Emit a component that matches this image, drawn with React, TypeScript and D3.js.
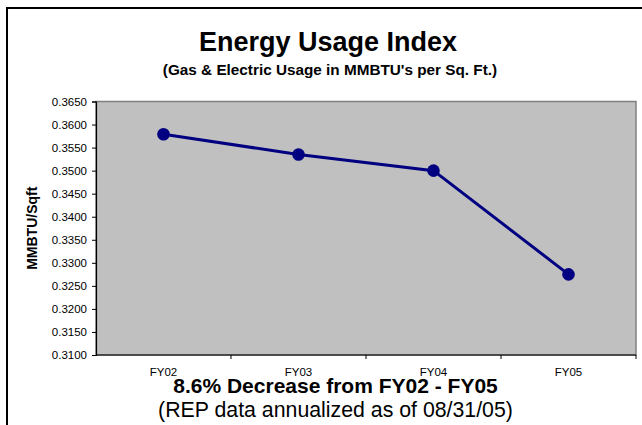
import React, { useEffect, useRef } from "react";
import * as d3 from "d3";

const categories = ["FY02", "FY03", "FY04", "FY05"];
const usage = [0.3579, 0.3535, 0.35, 0.3275];
const yTicks = [0.31, 0.315, 0.32, 0.325, 0.33, 0.335, 0.34, 0.345, 0.35, 0.355, 0.36, 0.365];

const title = "Energy Usage Index";
const subtitle = "(Gas & Electric Usage in MMBTU's per Sq. Ft.)";
const yTitle = "MMBTU/Sqft";
const note = "8.6% Decrease from FY02 - FY05";
const note2 = "(REP data annualized as of 08/31/05)";

export default function App() {
  const ref = useRef<SVGSVGElement>(null);

  useEffect(() => {
    const svg = d3.select(ref.current);
    svg.selectAll("*").remove();

    const font = "'Liberation Sans', Arial, sans-serif";
    const left = 96,
      right = 636,
      top = 101.5,
      bottom = 355;

    // outer chart frame (runs off the right / bottom edge)
    svg
      .append("rect")
      .attr("x", 7)
      .attr("y", 8)
      .attr("width", 680)
      .attr("height", 460)
      .attr("fill", "white")
      .attr("stroke", "black")
      .attr("stroke-width", 2);

    const x = d3.scaleBand().domain(categories).range([left, right]).padding(0);
    const y = d3.scaleLinear().domain([0.31, 0.365]).range([bottom, top]);

    // plot area
    svg
      .append("rect")
      .attr("x", left)
      .attr("y", top)
      .attr("width", right - left)
      .attr("height", bottom - top)
      .attr("fill", "#c0c0c0")
      .attr("stroke", "#808080")
      .attr("stroke-width", 1.5);

    // y axis
    const yAxis = svg
      .append("g")
      .attr("transform", "translate(" + left + ",0)")
      .call(
        d3
          .axisLeft(y)
          .tickValues(yTicks)
          .tickSize(4)
          .tickPadding(5)
          .tickFormat(d3.format(".4f"))
      );
    yAxis.select(".domain").attr("stroke", "black").attr("stroke-width", 1.2);
    yAxis.selectAll(".tick line").attr("stroke", "black");
    yAxis
      .selectAll(".tick text")
      .attr("font-family", font)
      .attr("font-size", "11.5px")
      .attr("fill", "black");

    // x axis line + ticks at band edges
    const xAxis = svg.append("g");
    xAxis
      .append("line")
      .attr("x1", left)
      .attr("x2", right)
      .attr("y1", bottom)
      .attr("y2", bottom)
      .attr("stroke", "black")
      .attr("stroke-width", 1.2);
    xAxis
      .selectAll(".edge")
      .data(categories.slice(1).concat(["end"]))
      .enter()
      .append("line")
      .attr("x1", (d) => (d === "end" ? right : (x(d) as number)))
      .attr("x2", (d) => (d === "end" ? right : (x(d) as number)))
      .attr("y1", bottom)
      .attr("y2", bottom + 4)
      .attr("stroke", "black");
    xAxis
      .selectAll(".lbl")
      .data(categories)
      .enter()
      .append("text")
      .attr("x", (d) => (x(d) as number) + x.bandwidth() / 2)
      .attr("y", 376)
      .attr("text-anchor", "middle")
      .attr("font-family", font)
      .attr("font-size", "11.5px")
      .text((d) => d);

    // series
    const pts = categories.map((c, i) => [
      (x(c) as number) + x.bandwidth() / 2,
      y(usage[i]),
    ]) as [number, number][];

    svg
      .append("path")
      .attr("d", d3.line()(pts) as string)
      .attr("fill", "none")
      .attr("stroke", "#000080")
      .attr("stroke-width", 3);

    svg
      .selectAll(".dot")
      .data(pts)
      .enter()
      .append("circle")
      .attr("cx", (d) => d[0])
      .attr("cy", (d) => d[1])
      .attr("r", 6.3)
      .attr("fill", "#000080");

    // titles
    svg
      .append("text")
      .attr("x", 328)
      .attr("y", 51)
      .attr("text-anchor", "middle")
      .attr("font-family", font)
      .attr("font-weight", "bold")
      .attr("font-size", "27px")
      .text(title);
    svg
      .append("text")
      .attr("x", 330)
      .attr("y", 75)
      .attr("text-anchor", "middle")
      .attr("font-family", font)
      .attr("font-weight", "bold")
      .attr("font-size", "15.3px")
      .text(subtitle);

    svg
      .append("text")
      .attr("transform", "translate(37," + (top + bottom) / 2 + ") rotate(-90)")
      .attr("text-anchor", "middle")
      .attr("font-family", font)
      .attr("font-weight", "bold")
      .attr("font-size", "14px")
      .text(yTitle);

    svg
      .append("text")
      .attr("x", 335.5)
      .attr("y", 393)
      .attr("text-anchor", "middle")
      .attr("font-family", font)
      .attr("font-weight", "bold")
      .attr("font-size", "21px")
      .text(note);
    svg
      .append("text")
      .attr("x", 335.5)
      .attr("y", 417)
      .attr("text-anchor", "middle")
      .attr("font-family", font)
      .attr("font-size", "21.3px")
      .text(note2);
  });

  return (
    <svg
      ref={ref}
      width="642"
      height="425"
      style={{ position: "absolute", left: 0, top: 0, background: "white" }}
    />
  );
}
